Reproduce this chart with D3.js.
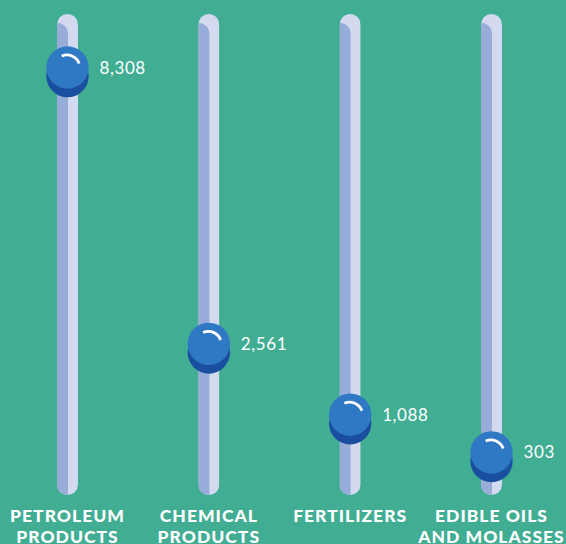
<!DOCTYPE html>
<html>
<head>
<meta charset="utf-8">
<script src="https://cdn.jsdelivr.net/npm/d3@7"></script>
<style>
  html, body { margin: 0; padding: 0; background: #41AD93; }
  svg { display: block; }
</style>
</head>
<body>
<svg id="chart" width="566" height="544"></svg>
<script>
const categories = ["PETROLEUM PRODUCTS", "CHEMICAL PRODUCTS", "FERTILIZERS", "EDIBLE OILS AND MOLASSES"];
const labelLines = [["PETROLEUM", "PRODUCTS"], ["CHEMICAL", "PRODUCTS"], ["FERTILIZERS"], ["EDIBLE OILS", "AND MOLASSES"]];
const values = [8308, 2561, 1088, 303];
const valueLabels = ["8,308", "2,561", "1,088", "303"];

const W = 566, H = 544;
const svg = d3.select("#chart");

svg.append("rect").attr("width", W).attr("height", H).attr("fill", "#41AD93");

const x = d3.scalePoint().domain(categories).range([67.5, 491.5]);
const y = d3.scaleLinear().domain([0, 8308]).range([467, 67.5]);

const trackW = 21, trackTop = 14, trackBottom = 495;
const defs = svg.append("defs");

categories.forEach((c, i) => {
  const cx = x(c);
  const clipId = "clip" + i;
  defs.append("clipPath").attr("id", clipId)
    .append("rect")
    .attr("x", cx - trackW / 2).attr("y", trackTop)
    .attr("width", trackW).attr("height", trackBottom - trackTop)
    .attr("rx", trackW / 2);
  const g = svg.append("g").attr("clip-path", `url(#${clipId})`);
  g.append("rect")
    .attr("x", cx - trackW / 2).attr("y", trackTop)
    .attr("width", trackW).attr("height", trackBottom - trackTop)
    .attr("fill", "#D3DAF0");
  g.append("rect")
    .attr("x", cx - trackW / 2 - 12).attr("y", trackTop + 9)
    .attr("width", trackW / 2 + 12.5).attr("height", trackBottom - trackTop + 20)
    .attr("rx", 10)
    .attr("fill", "#98ACD9");
});

const r = 21.2, shadowOff = 8.6, hr = 13;
const arc = d3.arc().innerRadius(hr).outerRadius(hr)
  .startAngle(-24 * Math.PI / 180).endAngle(70 * Math.PI / 180);

categories.forEach((c, i) => {
  const cx = x(c), cy = y(values[i]);
  svg.append("circle").attr("cx", cx).attr("cy", cy + shadowOff).attr("r", r).attr("fill", "#1A4E9E");
  svg.append("circle").attr("cx", cx).attr("cy", cy).attr("r", r).attr("fill", "#2F78C3");
  svg.append("path")
    .attr("transform", `translate(${cx - 0.5},${cy + 0.5})`)
    .attr("d", arc())
    .attr("fill", "none")
    .attr("stroke", "#ffffff")
    .attr("stroke-width", 2.8)
    .attr("stroke-linecap", "round");
  svg.append("text")
    .attr("x", cx + 32).attr("y", cy + 6)
    .attr("fill", "#ffffff")
    .attr("font-family", "Lato, 'Open Sans', sans-serif")
    .attr("font-size", 17)
    .attr("letter-spacing", 0.6)
    .text(valueLabels[i]);
});

categories.forEach((c, i) => {
  const t = svg.append("text")
    .attr("x", x(c)).attr("y", 522)
    .attr("text-anchor", "middle")
    .attr("fill", "#ffffff")
    .attr("font-family", "Lato, sans-serif")
    .attr("font-weight", 900)
    .attr("font-size", 17.5)
    .attr("letter-spacing", 1);
  labelLines[i].forEach((ln, j) => {
    t.append("tspan").attr("x", x(c)).attr("dy", j === 0 ? 0 : 21).text(ln);
  });
});
</script>
</body>
</html>
